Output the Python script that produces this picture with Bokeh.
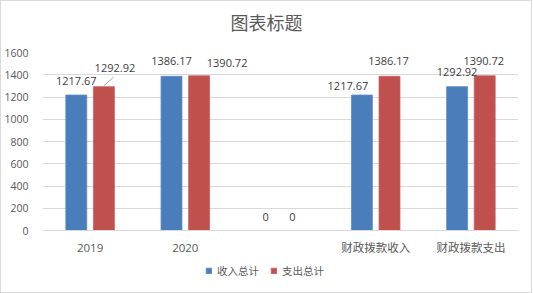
from bokeh.plotting import figure
from bokeh.layouts import column
from bokeh.models import (ColumnDataSource, FactorRange, Range1d, FixedTicker, Legend, LegendItem,
                          Segment, Label)
from bokeh.transform import dodge
from bokeh.core.properties import value
from bokeh.embed import file_html
from bokeh.resources import INLINE

categories = ["2019", "2020", "", "财政拨款收入", "财政拨款支出"]
income = [1217.67, 1386.17, 0, 1217.67, 1292.92]
expense = [1292.92, 1390.72, 0, 1386.17, 1390.72]
series_names = ["收入总计", "支出总计"]
y_ticks = [0, 200, 400, 600, 800, 1000, 1200, 1400, 1600]
title_text = "图表标题"

BLUE = "#4a7ebb"
RED = "#c0504d"
GRID = "#d9d9d9"
TXT = "#595959"
LBL = "#404040"
NUMFONT = "Open Sans"
CJK = "Noto Sans CJK SC"

# label placement offsets (screen px) mimicking the reference's data-label layout
inc_dx = [0, 0, -1, -14, 0]
inc_dy = [-14, -15, -14, -9, -15]
exp_dx = [11, 28, -2, -1, -1]
exp_dy = [-19, -13, -14, -15, -15]

def fmt(v):
    return "0" if v == 0 else f"{v:.2f}"

src = ColumnDataSource(dict(
    cat=categories, inc=income, exp=expense,
    inc_lbl=[fmt(v) for v in income], exp_lbl=[fmt(v) for v in expense],
    inc_dx=inc_dx, inc_dy=inc_dy, exp_dx=exp_dx, exp_dy=exp_dy,
))

def strip(h):
    f = figure(width=530, height=h, x_range=Range1d(0, 1), y_range=Range1d(0, h),
               output_backend="svg", toolbar_location=None,
               min_border_left=41, min_border_right=13, min_border_top=0, min_border_bottom=0)
    f.axis.visible = False
    f.grid.visible = False
    f.outline_line_color = None
    f.background_fill_color = "white"
    f.border_fill_color = "white"
    return f

# title strip
tf = strip(40)
tf.add_layout(Label(x=(266 - 42) / 476, y=20, text=title_text, text_font=CJK, text_font_size="18px",
                    text_color=TXT, text_align="center", text_baseline="middle"))

# main chart
p = figure(width=530, height=217, x_range=FactorRange(*categories), y_range=Range1d(0, 1600),
           output_backend="svg", toolbar_location=None,
           min_border_left=41, min_border_right=13, min_border_top=11, min_border_bottom=28)
p.outline_line_color = None
p.background_fill_color = "white"
p.border_fill_color = "white"

p.xgrid.grid_line_color = None
p.ygrid.grid_line_color = GRID
p.ygrid.grid_line_width = 1

p.yaxis.ticker = FixedTicker(ticks=y_ticks)
p.yaxis.axis_line_color = None
p.yaxis.major_tick_line_color = None
p.yaxis.minor_tick_line_color = None
p.yaxis.major_label_standoff = 8
p.yaxis.major_label_text_font = NUMFONT
p.yaxis.major_label_text_font_size = "10.5px"
p.yaxis.major_label_text_color = TXT

p.xaxis.axis_line_color = GRID
p.xaxis.major_tick_line_color = None
p.xaxis.minor_tick_line_color = None
p.xaxis.major_label_standoff = 3
p.xaxis.major_label_text_font = f"{NUMFONT}, {CJK}"
p.xaxis.major_label_text_font_size = "11.5px"
p.xaxis.major_label_text_color = TXT

W = 0.22
D = 0.145
p.vbar(x=dodge("cat", -D, range=p.x_range), top="inc", width=W, source=src,
       fill_color=BLUE, line_color="#5a8cc6", line_width=0.8)
p.vbar(x=dodge("cat", D, range=p.x_range), top="exp", width=W, source=src,
       fill_color=RED, line_color="#c9615e", line_width=0.8)

p.text(x=dodge("cat", -D, range=p.x_range), y="inc", text="inc_lbl", source=src,
       x_offset="inc_dx", y_offset="inc_dy",
       text_font=value(NUMFONT), text_font_size="11px", text_color=LBL,
       text_align="center", text_baseline="middle")
p.text(x=dodge("cat", D, range=p.x_range), y="exp", text="exp_lbl", source=src,
       x_offset="exp_dx", y_offset="exp_dy",
       text_font=value(NUMFONT), text_font_size="11px", text_color=LBL,
       text_align="center", text_baseline="middle")

# leader line for the 2019 expense label
lead = ColumnDataSource(dict(x0=[0.5 + D], y0=[expense[0] + 8], x1=[0.5 + D + 0.1], y1=[expense[0] + 85]))
p.add_glyph(lead, Segment(x0="x0", y0="y0", x1="x1", y1="y1", line_color="#a6a6a6", line_width=1))

# legend strip (legend swatches come from off-frame proxy renderers)
lg = strip(34)
proxy = ColumnDataSource(dict(x=[0.5], top=[-10], bottom=[-20]))
k1 = lg.vbar(x="x", top="top", bottom="bottom", width=0.1, source=proxy,
             fill_color=BLUE, line_color="#5a8cc6", line_width=0.8)
k2 = lg.vbar(x="x", top="top", bottom="bottom", width=0.1, source=proxy,
             fill_color=RED, line_color="#c9615e", line_width=0.8)
legend = Legend(items=[LegendItem(label=series_names[0], renderers=[k1]),
                       LegendItem(label=series_names[1], renderers=[k2])],
                orientation="horizontal", location=(163, 14),
                glyph_width=7, glyph_height=7, label_height=12, label_standoff=5, spacing=11,
                padding=0, margin=0, border_line_alpha=0, background_fill_alpha=0,
                label_text_font=CJK, label_text_font_size="10.5px", label_text_color=TXT)
lg.add_layout(legend, "center")

layout = column(tf, p, lg, spacing=0)
layout.styles = {"border": "1px solid #d9d9d9"}

open("out.html", "w").write(file_html(layout, INLINE))
